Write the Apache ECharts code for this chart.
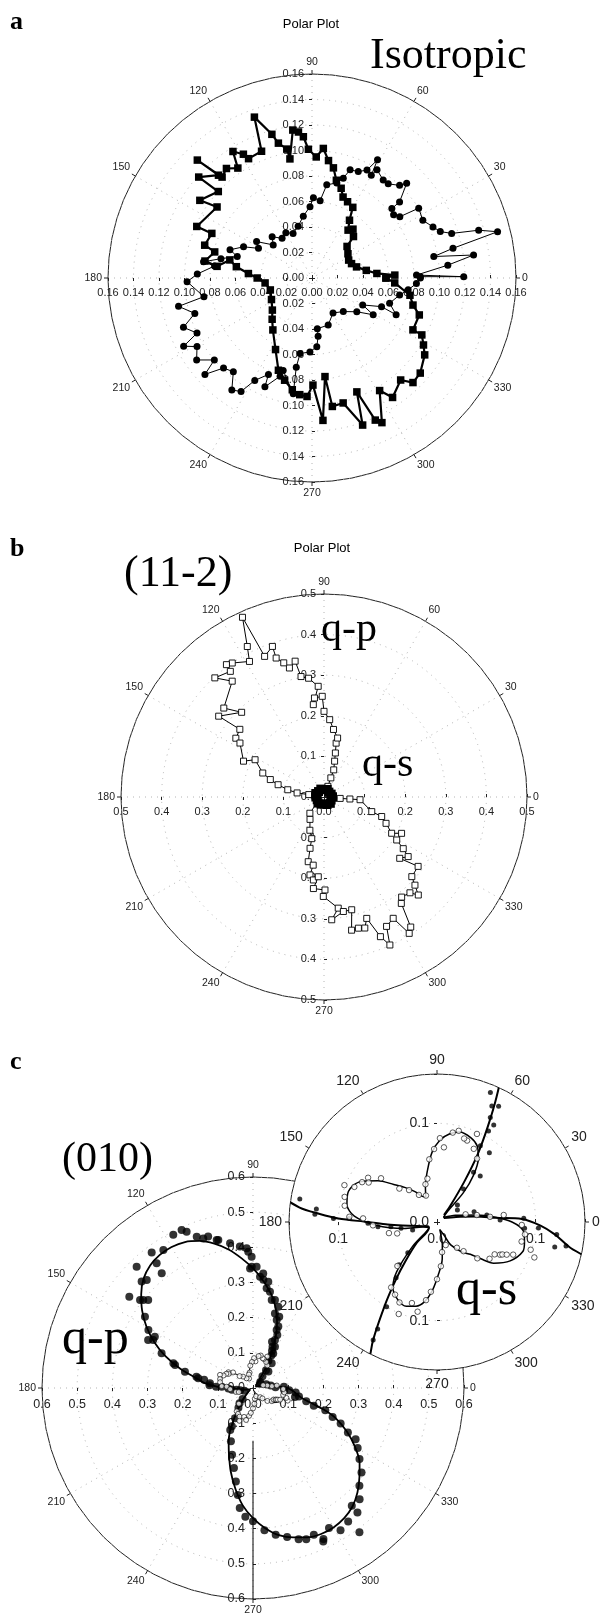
<!DOCTYPE html>
<html><head><meta charset="utf-8">
<script src="https://cdn.jsdelivr.net/npm/echarts@6/dist/echarts.min.js"></script>
<style>html,body{margin:0;padding:0;background:#fff}#chart{width:605px;height:1619px}</style>
</head><body><div id="chart"></div>
<script>
// ---------- DATA : [angle (deg), radius] ----------
// Panel a (Isotropic) – filled squares series
const aSquares = [[0,.058],[2,.065],[4,.051],[8,.043],[14,.036],[20,.033],[26,.032],[34,.034],[42,.037],[45,.046],[50,.050],[53,.047],[57,.054],[60,.064],[65,.066],[69,.068],[72,.074],[76,.079],[79,.088],[82,.093],[85,.102],[88,.095],[91.6,.101],[93.5,.111],[95.3,.115],[97.4,.117],[100.5,.095],[101,.103],[104,.109],[105.6,.117],[109.7,.134],[111.7,.107],[118,.106],[119,.111],[122,.117],[124,.104],[128,.109],[131.7,.106],[134.2,.129],[132.3,.109],[138.3,.119],[137.3,.100],[145.3,.107],[143.2,.093],[155.9,.099],[156,.086],[163,.088],[165,.079],[171,.085],[173,.075],[167.6,.066],[171.5,.060],[176,.050],[180,.043],[186,.037],[196,.034],[208,.036],[219,.040],[226,.045],[233,.051],[243,.063],[250,.077],[255,.083],[260,.089],[264,.092],[267.6,.093],[270.5,.084],[274.4,.112],[277.5,.078],[279,.102],[284,.101],[289,.122],[291.5,.096],[294,.122],[295.8,.126],[301,.103],[304,.113],[311,.106],[314,.114],[318.7,.113],[325.7,.107],[329,.102],[332.6,.097],[332.8,.089],[341,.089],[345,.082],[350,.078],[356.6,.065],[360,.058]];
// Panel a – filled circles series
const aCircles = [[0.7,.085],[0.5,.119],[1.6,.082],[5.4,.107],[8.1,.128],[10,.097],[11.9,.113],[14,.150],[16,.136],[17.7,.115],[19.9,.107],[22.9,.103],[27.5,.098],[33.2,.100],[34.9,.084],[37.8,.081],[41,.083],[41,.091],[45,.105],[46.6,.100],[51,.095],[54,.095],[59,.099],[60,.093],[61,.106],[63,.095],[66.5,.091],[70.6,.090],[72.6,.082],[75.4,.077],[81,.074],[84,.061],[89,.063],[91.6,.056],[98,.049],[105,.042],[113,.038],[120,.041],[127,.039],[134,.045],[139.5,.040],[146.7,.052],[151,.048],[155.5,.059],[161,.068],[164,.061],[168,.073],[171.5,.086],[173,.077],[178,.090],[181.7,.098],[189.8,.086],[192,.107],[196.8,.096],[201,.108],[205.6,.100],[208,.114],[210.8,.105],[215.4,.111],[220,.100],[222,.113],[225.5,.099],[230,.096],[234.4,.108],[238,.105],[240.8,.092],[245.7,.083],[246.6,.093],[252,.081],[252.7,.076],[260.8,.092],[260,.071],[261,.060],[268.4,.058],[274,.054],[276,.046],[276,.040],[289,.039],[301,.032],[313,.036],[323,.044],[329,.056],[332,.045],[337.6,.059],[336.4,.072],[342,.064],[349,.070],[353,.076],[357,.082],[360,.085]];
// Panel b (11-2) – q-p open squares
const bQP = [[5,.018],[40,.012],[70,.028],[70.3,.050],[70.3,.071],[73.5,.092],[75.5,.112],[77.3,.136],[77,.149],[82,.168],[85.8,.191],[90,.211],[91,.248],[95.5,.245],[96.6,.229],[93,.273],[97.4,.295],[100.8,.302],[102,.342],[105,.329],[106.7,.345],[109,.362],[108.9,.392],[112.9,.376],[114.4,.486],[117,.416],[118.8,.381],[124.4,.400],[126.4,.405],[126.7,.386],[132.5,.398],[128.4,.364],[138.4,.330],[134.2,.291],[142.5,.327],[141.2,.266],[146.3,.261],[147.3,.246],[156,.217],[151.6,.193],[158.6,.162],[162,.139],[165,.117],[168.7,.091],[171.4,.067],[171,.038],[180,.020],[215,.018],[229,.053],[238,.065],[247,.089],[253.6,.107],[254.8,.131],[256.3,.164],[261,.170],[259.8,.195],[262.7,.206],[265.9,.197],[263.4,.227],[270.6,.229],[269.6,.245],[277.3,.276],[273.6,.303],[279.6,.286],[283.8,.286],[281.7,.335],[284.7,.334],[287.3,.338],[289.4,.317],[292,.371],[294,.399],[295.8,.354],[299.7,.344],[302,.396],[303.7,.385],[306,.324],[307.8,.312],[311.9,.317],[313.9,.335],[315.9,.312],[317.8,.292],[323.6,.288],[321,.240],[324.7,.254],[326.9,.233],[329.4,.208],[334.9,.211],[331.8,.189],[337,.166],[341.3,.150],[343,.123],[355.7,.089],[355.6,.064],[355,.040],[360,.018]];
// Panel b – q-s filled (tiny, at centre)
const bQS = [[0,.021],[22,.019],[45,.017],[67,.020],[90,.018],[112,.021],[135,.019],[157,.022],[180,.020],[202,.018],[225,.021],[247,.019],[270,.017],[292,.020],[315,.022],[337,.019],[360,.021]];
// Panel c (010) – q-p measured points
const cQP = [[30.6,.024],[40,.027],[15.6,.039],[8,.051],[1.8,.064],[2.4,.088],[356,.089],[356.6,.103],[354,.122],[349.5,.133],[46.8,.064],[51.3,.043],[52.9,.088],[53.7,.0625],[59.7,.114],[60.4,.089],[60.5,.106],[63,.119],[64.7,.130],[65.4,.166],[67.6,.142],[67.6,.189],[69.8,.216],[72.7,.242],[80,.278],[81.8,.305],[84.9,.327],[88.3,.345],[90.6,.373],[170.5,.141],[176.4,.124],[178,.105],[177.6,.089],[181,.070],[184.5,.060],[185.8,.047],[189.8,.037],[198,.026],[226.5,.043],[228.5,.058],[233.7,.070],[239.3,.100],[241,.124],[62,.133],[65.4,.150],[67.8,.178],[70.8,.205],[73.6,.221],[76,.258],[78,.256],[82.2,.286],[84.5,.309],[86.4,.317],[90.6,.345],[91.4,.340],[92,.388],[92.6,.398],[95.3,.404],[99,.417],[103.2,.432],[103.8,.433],[106.5,.449],[108.4,.448],[110.4,.459],[113,.483],[114.3,.493],[117.5,.491],[123,.468],[126.8,.481],[127.7,.448],[128.5,.417],[133.8,.478],[134.5,.431],[136.3,.438],[140,.389],[141.3,.400],[142.1,.407],[143.6,.437],[146.6,.368],[151,.340],[152.4,.315],[154.3,.315],[155.4,.328],[159.2,.278],[162.8,.237],[163.6,.231],[166.5,.199],[168.7,.164],[170,.158],[173.8,.123],[241.6,.136],[247.5,.164],[252.6,.199],[256.6,.234],[259.6,.270],[261.9,.307],[263.7,.343],[266.6,.367],[270,.379],[274.6,.406],[278.8,.422],[282.9,.435],[286.8,.449],[289.4,.456],[292.5,.452],[294.6,.480],[295,.474],[298.5,.453],[301.6,.475],[305.5,.466],[306.4,.510],[310,.462],[310,.437],[313.8,.438],[317.4,.411],[322.1,.391],[326.3,.364],[330.2,.343],[333.5,.326],[334.9,.298],[337.9,.269],[340,.241],[342.9,.215],[343.7,.180],[346,.156],[348,.122]];
// Panel c – q-p fitted curve
const cQPFit = [[45,.01],[50,.02],[56,.05],[59,.08],[62,.11],[64.5,.14],[67,.17],[70,.20],[74,.235],[78,.265],[82,.29],[86,.315],[90,.34],[95,.37],[100,.40],[105,.425],[110,.445],[115,.458],[120,.463],[125,.462],[130,.455],[135,.44],[140,.415],[145,.385],[150,.35],[155,.31],[160,.265],[165,.215],[170,.165],[174,.14],[176,.12],[178,.10],[180,.07],[183,.05],[186,.035],[192,.02],[205,.01],[215,.01],[226,.03],[231,.05],[234.5,.072],[238,.10],[242,.14],[246,.17],[250,.2],[255,.245],[260,.29],[265,.335],[270,.37],[275,.40],[280,.425],[285,.44],[290,.452],[295,.458],[300,.458],[305,.452],[310,.44],[315,.42],[320,.395],[325,.37],[330,.335],[335,.295],[340,.25],[343,.21],[346,.165],[349,.138],[354,.12],[358,.105],[2,.086],[4,.06],[8,.04],[15,.02],[30,.008]];
// Panel c – q-s measured points (open circles)
const cQS = [[5.6,.054],[6,.068],[9.9,.041],[15,.03],[57.7,.076],[63.3,.083],[65.6,.098],[69.7,.088],[72,.089],[76.6,.095],[80,.092],[84.7,.076],[88,.085],[92.3,.074],[97,.064],[102.5,.045],[107,.04],[112.7,.029],[123.7,.033],[131.2,.043],[138.4,.051],[142,.072],[147.3,.083],[150,.08],[152,.086],[157,.091],[158.3,.101],[164.8,.097],[170,.095],[176.6,.089],[177.2,.075],[183,.065],[193,.050],[196,.042],[228,.06],[235,.081],[240,.085],[245,.09],[247.4,.101],[252.8,.086],[257.8,.093],[262,.08],[265,.071],[270,.058],[275,.045],[279.5,.031],[290.7,.025],[307.7,.033],[312.3,.040],[318,.055],[325,.065],[330.7,.067],[332.6,.072],[333.6,.074],[334.9,.078],[336.8,.084],[340,.105],[343.5,.099],[347,.088],[352,.09],[358,.086]];
// Panel c – q-s fitted curve
const cQSFit = [[290,.008],[298,.015],[301,.027],[310,.040],[316,.047],[320,.058],[324,.071],[332,.084],[341,.092],[347,.091],[354,.088],[0,.076],[5,.058],[10,.041],[20,.02],[35,.008],[45,.015],[48,.04],[52,.06],[57,.077],[62,.087],[68,.092],[76,.094],[82,.09],[88,.083],[94,.071],[101,.052],[108,.038],[114,.028],[120,.030],[126,.038],[133,.048],[139,.058],[145,.073],[153,.089],[161,.095],[169,.093],[176,.084],[183,.062],[191,.034],[200,.015],[215,.01],[225,.035],[231,.065],[236,.08],[243,.088],[250,.091],[256,.088],[261,.082],[266,.070],[272,.052],[278,.038],[283,.024],[290,.008]];
// Panel c – straight segment along 270°
const cLine = [[270,.15],[270,.6]];

// ---------- CHART ----------
const SANS = '"Liberation Sans", Arial, sans-serif';
const SERIF = '"Liberation Serif", "Times New Roman", serif';
const polars = [], angleAxes = [], radiusAxes = [];

function addPanel(cfg) {
  const base = polars.length;
  [0, 90, 180, 270].forEach(function (dir, k) {
    const pi = base + k, isMain = k === 0;
    polars.push({center: cfg.center, radius: cfg.radius});
    angleAxes.push({
      polarIndex: pi, type: 'value', min: 0, max: 360, interval: 30,
      startAngle: dir, clockwise: false, show: isMain, z: cfg.z,
      axisLine: {show: true, lineStyle: {color: '#222', width: 1}},
      axisTick: {show: true, length: 4, lineStyle: {color: '#222', width: 1}},
      axisLabel: {show: true, fontSize: cfg.angFont, color: '#222', fontFamily: SANS, margin: cfg.angMargin,
        formatter: function (v) { return v >= 360 ? '' : String(v); }},
      splitLine: {show: true, lineStyle: {color: '#b4b4b4', width: 1, type: [1, 5]}},
      splitArea: {show: !!cfg.fill, areaStyle: {color: ['#ffffff']}}
    });
    const show0 = (dir === 90 || dir === 180);
    const lab = {show: true, fontSize: cfg.radFont, color: '#222', fontFamily: SANS,
      showMinLabel: true, showMaxLabel: true,
      formatter: function (v) {
        if (Math.abs(v) < 1e-9 && !show0) return '';
        if (cfg.only && cfg.only.indexOf(+(+v).toFixed(3)) < 0) return '';
        return (+v).toFixed(cfg.dec);
      }};
    if (dir === 0) Object.assign(lab, {margin: -cfg.gapH, align: 'center', verticalAlign: 'top'});
    if (dir === 180) Object.assign(lab, {margin: cfg.gapH, align: 'center', verticalAlign: 'top'});
    if (dir === 90) Object.assign(lab, {margin: cfg.gapV, align: 'right', verticalAlign: 'middle'});
    if (dir === 270) Object.assign(lab, {margin: -cfg.gapV, align: 'right', verticalAlign: 'middle'});
    radiusAxes.push({
      polarIndex: pi, type: 'value', min: 0, max: cfg.max, interval: cfg.interval, z: cfg.z + 1,
      axisLine: {show: false},
      axisTick: {show: true, length: 3, inside: (dir === 0 || dir === 270), lineStyle: {color: '#222'}},
      axisLabel: lab,
      splitLine: {show: isMain, lineStyle: {color: '#b4b4b4', width: 1, type: [1, 5]}}
    });
  });
  return base;
}

const A = addPanel({center: [312, 278], radius: 204, max: 0.16, interval: 0.02, dec: 2, radFont: 11, angFont: 10.5, angMargin: 6, gapH: 9, gapV: 8, z: 0});
const B = addPanel({center: [324, 797], radius: 203, max: 0.5, interval: 0.1, dec: 1, radFont: 11, angFont: 10.5, angMargin: 6, gapH: 9, gapV: 8, z: 0});
const C = addPanel({center: [253, 1388], radius: 211, max: 0.6, interval: 0.1, dec: 1, radFont: 12.5, angFont: 10.5, angMargin: 6, gapH: 10, gapV: 8, z: 0});
const I = addPanel({center: [437, 1222], radius: 148, max: 0.15, interval: 0.1, dec: 1, radFont: 14, angFont: 14, angMargin: 7, gapH: 10, gapV: 8, z: 5, fill: true, only: [0, 0.1]});

const ra = function (arr) { return arr.map(function (p) { return [p[1], p[0]]; }); };
const within = function (arr, m) { return arr.filter(function (p) { return p[1] <= m; }); };
const P = {coordinateSystem: 'polar'};
function S(o) { return Object.assign({}, P, o); }

const series = [
  S({type: 'line', polarIndex: A, data: ra(aSquares), symbol: 'rect', symbolSize: 7.5, itemStyle: {color: '#000'}, lineStyle: {color: '#000', width: 2.2}, z: 3}),
  S({type: 'line', polarIndex: A, data: ra(aCircles), symbol: 'circle', symbolSize: 7, itemStyle: {color: '#000'}, lineStyle: {color: '#000', width: 1}, z: 3}),
  S({type: 'line', polarIndex: B, data: ra(bQP), symbol: 'rect', symbolSize: 6, itemStyle: {color: '#fff', borderColor: '#000', borderWidth: 0.9}, lineStyle: {color: '#000', width: 1}, z: 3}),
  S({type: 'line', polarIndex: B, data: ra(bQS), symbol: 'rect', symbolSize: 9, itemStyle: {color: '#000'}, lineStyle: {color: '#000', width: 2}, z: 4}),
  S({type: 'line', polarIndex: C, data: ra(cQPFit), symbol: 'none', smooth: 0.3, lineStyle: {color: '#000', width: 1.8}, z: 3}),
  S({type: 'scatter', polarIndex: C, data: ra(cQP), symbol: 'circle', symbolSize: 8, itemStyle: {color: '#000'}, z: 3}),
  S({type: 'line', polarIndex: C, data: ra(cQSFit), symbol: 'none', smooth: 0.3, lineStyle: {color: '#000', width: 1}, z: 4}),
  S({type: 'scatter', polarIndex: C, data: ra(cQS), symbol: 'circle', symbolSize: 5, itemStyle: {color: '#fff', borderColor: '#000', borderWidth: 0.8}, z: 4}),
  S({type: 'line', polarIndex: C, data: ra(cLine), symbol: 'none', lineStyle: {color: '#000', width: 1}, z: 3}),
  S({type: 'line', polarIndex: I, data: ra(cQPFit), symbol: 'none', smooth: 0.3, clip: true, lineStyle: {color: '#000', width: 2}, z: 7}),
  S({type: 'scatter', polarIndex: I, data: ra(within(cQP, 0.147)), symbol: 'circle', symbolSize: 5, itemStyle: {color: '#000'}, z: 7}),
  S({type: 'line', polarIndex: I, data: ra(cQSFit), symbol: 'none', smooth: 0.3, clip: true, lineStyle: {color: '#000', width: 1.5}, z: 8}),
  S({type: 'scatter', polarIndex: I, data: ra(within(cQS, 0.147)), symbol: 'circle', symbolSize: 5.5, itemStyle: {color: '#fff', borderColor: '#000', borderWidth: 0.8}, z: 8})
];

const texts = [
  {t: 'a', x: 10, y: 22, font: 'bold 26px ' + SERIF},
  {t: 'Polar Plot', x: 311, y: 24, font: '13px ' + SANS, align: 'center'},
  {t: 'Isotropic', x: 370, y: 56, font: '44px ' + SERIF},
  {t: 'b', x: 10, y: 549, font: 'bold 26px ' + SERIF},
  {t: 'Polar Plot', x: 322, y: 548, font: '13px ' + SANS, align: 'center'},
  {t: '(11-2)', x: 124, y: 574, font: '44px ' + SERIF},
  {t: 'q-p', x: 321, y: 630, font: '42px ' + SERIF},
  {t: 'q-s', x: 362, y: 765, font: '42px ' + SERIF},
  {t: 'c', x: 10, y: 1062, font: 'bold 26px ' + SERIF},
  {t: '(010)', x: 62, y: 1160, font: '42px ' + SERIF},
  {t: 'q-p', x: 62, y: 1340, font: '50px ' + SERIF},
  {t: 'q-s', x: 456, y: 1291, font: '50px ' + SERIF}
];
const graphic = texts.map(function (o) {
  return {type: 'text', x: o.x, y: o.y, z: 20,
    style: {text: o.t, font: o.font, fill: '#000', align: o.align || 'left', verticalAlign: 'middle'}};
});

const chart = echarts.init(document.getElementById('chart'), null, {renderer: 'canvas'});
chart.setOption({
  animation: false,
  backgroundColor: '#ffffff',
  polar: polars,
  angleAxis: angleAxes,
  radiusAxis: radiusAxes,
  series: series,
  graphic: graphic
});
</script></body></html>
